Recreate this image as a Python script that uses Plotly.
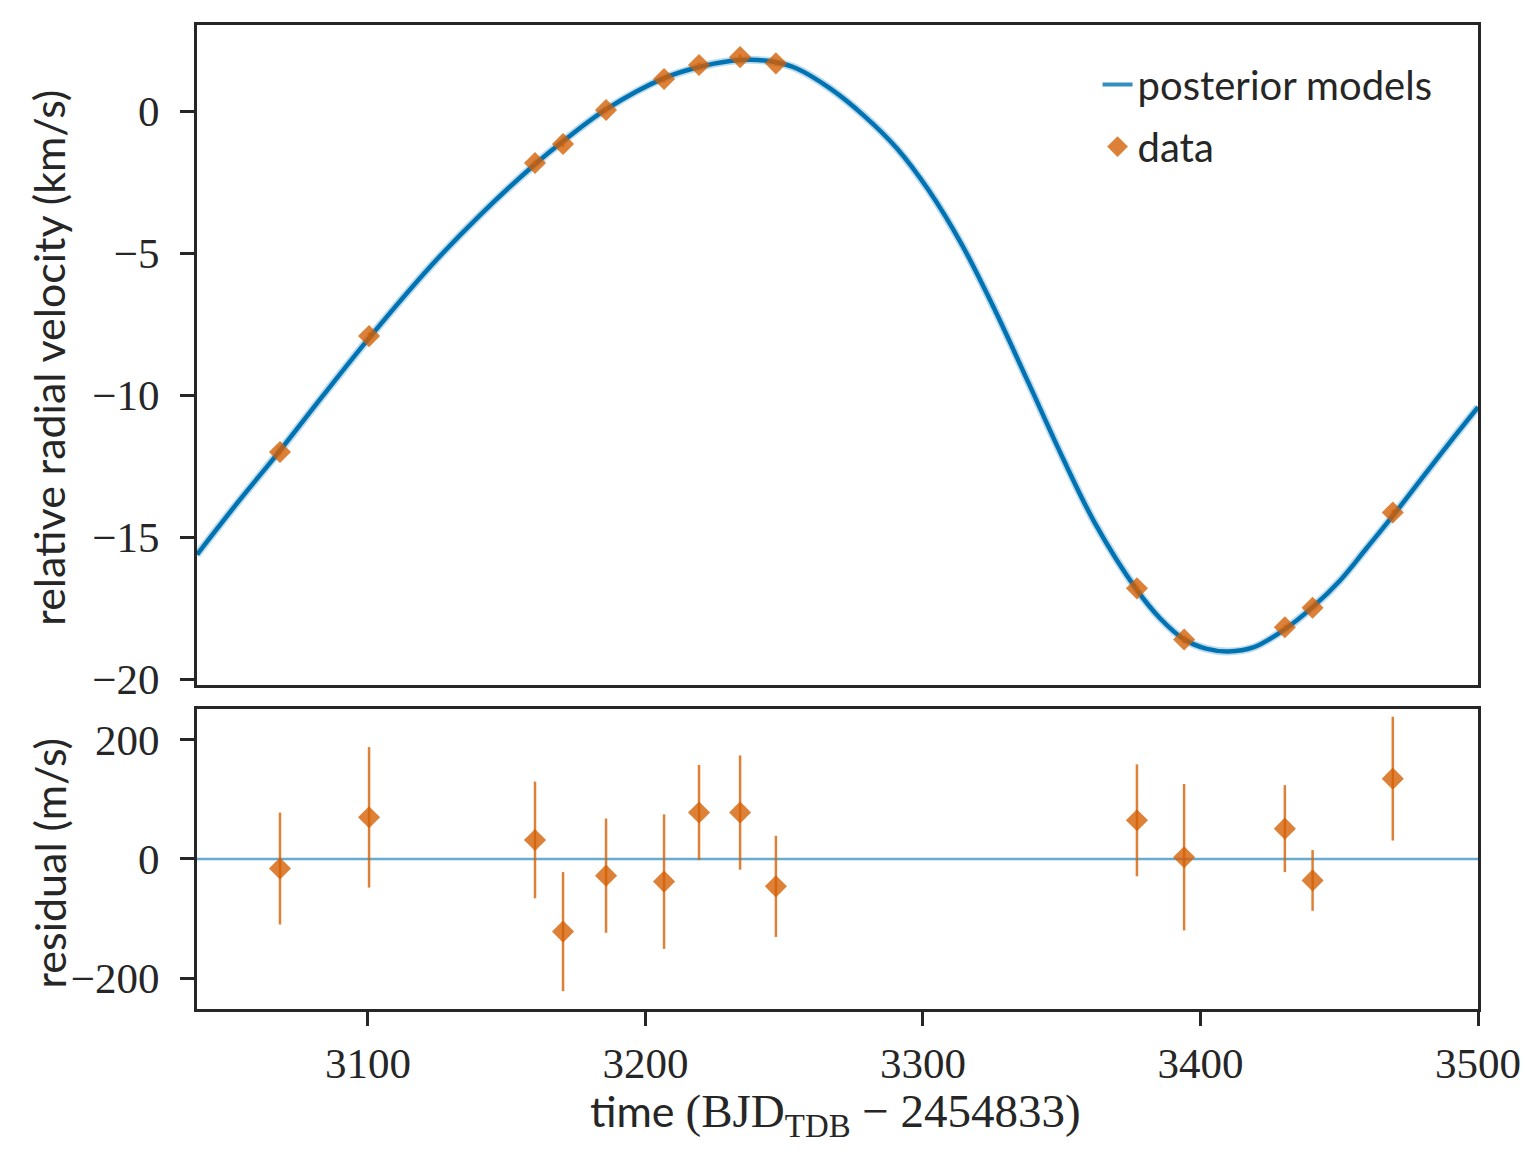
import plotly.graph_objects as go
from plotly.subplots import make_subplots

# observation times, BJD_TDB - 2454833
t_obs = [3068.3, 3100.4, 3160.2, 3170.3, 3185.8, 3206.7, 3219.3,
         3234.1, 3247.0, 3377.1, 3394.1, 3430.4, 3440.4, 3469.3]
# radial velocities (km/s)
rv_obs = [-12.00, -7.92, -1.83, -1.16, 0.04, 1.13, 1.62,
          1.90, 1.68, -16.80, -18.60, -18.17, -17.48, -14.13]
# residuals and their errors (m/s)
resid = [-16, 70, 32, -122, -28, -38, 78, 78, -46, 65, 3, 51, -36, 135]
resid_err = [94, 118, 98, 100, 96, 113, 80, 96, 85, 94, 123, 73, 51, 104]
rv_err = [e / 1000 for e in resid_err]

# posterior model curve
t_model = [3038.4, 3052.8, 3068.3, 3084.0, 3100.4, 3122.5, 3140.5, 3160.2,
           3170.3, 3185.8, 3206.7, 3219.3, 3230.5, 3238.0, 3247.0, 3254.5,
           3266.5, 3278.5, 3290.5, 3302.0, 3314.0, 3326.0, 3338.0, 3350.0,
           3362.0, 3377.2, 3385.4, 3394.2, 3402.0, 3410.0, 3419.0, 3430.2,
           3440.4, 3450.3, 3459.9, 3469.3, 3480.3, 3490.0, 3500.0]
rv_model = [-15.61, -13.81, -11.95, -9.99, -7.99, -5.47, -3.65, -1.87,
            -1.06, 0.06, 1.16, 1.55, 1.76, 1.81, 1.72, 1.50,
            0.80, -0.14, -1.30, -2.78, -4.70, -7.02, -9.56, -12.13,
            -14.51, -16.87, -17.85, -18.60, -18.92, -19.02, -18.88, -18.25,
            -17.46, -16.52, -15.38, -14.25, -12.86, -11.64, -10.42]

BLUE = "#0173b2"
ORANGE = "rgba(213,94,0,0.78)"
INK = "#262626"
SANS = "Lato"
SERIF = "Liberation Serif"

fig = make_subplots(rows=2, cols=1, shared_xaxes=True)

# faint spread of the posterior draws
fig.add_trace(go.Scatter(x=t_model, y=rv_model, mode="lines",
                         line=dict(color="rgba(1,115,178,0.25)", width=8, shape="spline"),
                         showlegend=False, hoverinfo="skip"), row=1, col=1)
fig.add_trace(go.Scatter(x=t_model, y=rv_model, mode="lines",
                         line=dict(color=BLUE, width=4.5, shape="spline"),
                         showlegend=False), row=1, col=1)
# legend entry for the models
fig.add_trace(go.Scatter(x=[None], y=[None], mode="lines", name="posterior models",
                         legendgroup="models",
                         line=dict(color="rgba(1,115,178,0.8)", width=4)), row=1, col=1)
fig.add_trace(go.Scatter(x=t_obs, y=rv_obs, mode="markers", name="data",
                         legendgroup="data",
                         marker=dict(symbol="diamond", size=17, color=ORANGE, line=dict(width=0)),
                         error_y=dict(type="data", array=rv_err, color=ORANGE, thickness=2.5, width=0)),
              row=1, col=1)

# residuals
fig.add_trace(go.Scatter(x=[3038.4, 3500], y=[0, 0], mode="lines",
                         line=dict(color="rgba(1,115,178,0.6)", width=2.5),
                         showlegend=False, hoverinfo="skip"), row=2, col=1)
fig.add_trace(go.Scatter(x=t_obs, y=resid, mode="markers", showlegend=False,
                         marker=dict(symbol="diamond", size=17, color=ORANGE, line=dict(width=0)),
                         error_y=dict(type="data", array=resid_err, color=ORANGE, thickness=2.5, width=0)),
              row=2, col=1)

axis_style = dict(showline=True, linewidth=3, linecolor=INK, mirror=True,
                  showgrid=False, zeroline=False,
                  tickfont=dict(family=SERIF, size=43, color=INK))

fig.update_xaxes(axis_style, range=[3038.4, 3500], tickvals=[3100, 3200, 3300, 3400, 3500])
fig.update_xaxes(showticklabels=False, ticks="", row=1, col=1)
fig.update_xaxes(ticks="outside", ticklen=14, tickwidth=2.5, tickcolor=INK,
                 ticklabelstandoff=0, row=2, col=1)
fig.update_yaxes(axis_style, ticks="outside", ticklen=14, tickwidth=2.5, tickcolor=INK,
                 ticklabelstandoff=12)
fig.update_yaxes(range=[-20.2, 3.03], tickvals=[0, -5, -10, -15, -20],
                 domain=[0.3293, 1.0], row=1, col=1)
fig.update_yaxes(range=[-252, 252], tickvals=[-200, 0, 200],
                 domain=[0.0, 0.3049], row=2, col=1)

fig.add_annotation(text="relative radial velocity (km/s)", textangle=-90,
                   xref="paper", yref="paper", x=-0.1155, y=0.662,
                   xanchor="center", yanchor="middle", showarrow=False,
                   font=dict(family=SANS, size=43, color=INK))
fig.add_annotation(text="residual (m/s)", textangle=-90,
                   xref="paper", yref="paper", x=-0.1155, y=0.148,
                   xanchor="center", yanchor="middle", showarrow=False,
                   font=dict(family=SANS, size=43, color=INK))
fig.add_annotation(text="time <span style='font-family:Liberation Serif;font-size:47px'>"
                        "(BJD<sub>TDB</sub> \u2212 2454833)</span>",
                   xref="paper", yref="paper", x=0.4985, y=-0.1077,
                   xanchor="center", yanchor="middle", showarrow=False,
                   font=dict(family=SANS, size=43, color=INK))

# the page adds an 8px body margin, so the figure is drawn 8px smaller
fig.update_layout(
  width=1532, height=1158,
  margin=dict(l=189, r=62, t=17, b=157),
  paper_bgcolor="white", plot_bgcolor="white",
  legend=dict(x=0.703, y=0.9725, xanchor="left", yanchor="top",
              traceorder="grouped", tracegroupgap=7,
              font=dict(family=SANS, size=40, color=INK),
              bgcolor="rgba(0,0,0,0)"),
)

fig.write_html("out.html")
